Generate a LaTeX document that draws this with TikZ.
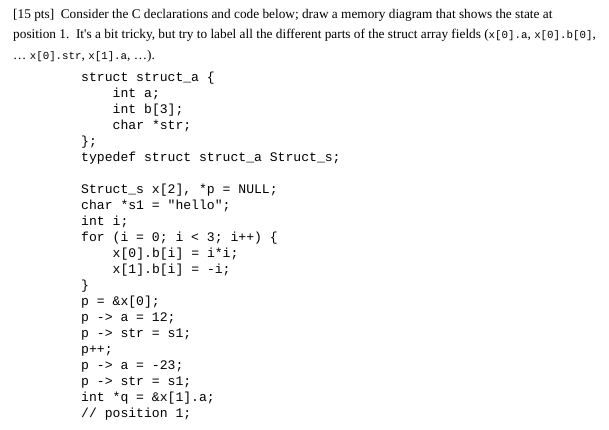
\documentclass[tikz,border=0pt]{standalone}
\usepackage{fontspec}
\setmainfont{Liberation Serif}
\setmonofont{Liberation Mono}
\usepackage{tikz}
\newcommand\inl[1]{{\fontsize{10.8}{12}\ttfamily #1}}

\begin{document}
\begin{tikzpicture}[x=1pt,y=-1pt,
        txt/.style={anchor=base west,inner sep=0pt,font=\fontsize{13.3}{16}\selectfont},
        code/.style={anchor=base west,inner sep=0pt,font=\fontsize{13.1}{16}\ttfamily}]
        \useasboundingbox (0,0) rectangle (609,429);
        % Question
        \node[txt] (q1) at (13,18) {[15 pts]\ \ Consider the C declarations and code below; draw a memory diagram that shows the state at};
        \node[txt] (q2) at (13,38.5) {position 1.\ \ It\textquotesingle s a bit tricky, but try to label all the different parts of the struct array fields (\inl{x[0].a}, \inl{x[0].b[0]},};
        \node[txt] (q3) at (13,59.5) {\dots\ \inl{x[0].str}, \inl{x[1].a}, \dots).};
        % Declarations
        \node[code] (c1) at (81,81.5) {struct struct\_a \{};
        \node[code] (c2) at (112.5,97.5) {int a;};
        \node[code] (c3) at (112.5,113.5) {int b[3];};
        \node[code] (c4) at (112.5,129.5) {char *str;};
        \node[code] (c5) at (81,145.5) {\};};
        \node[code] (c6) at (81,161.5) {typedef struct struct\_a Struct\_s;};
        % Code
        \node[code] (c7) at (81,193.5) {Struct\_s x[2], *p = NULL;};
        \node[code] (c8) at (81,209.5) {char *s1 = "hello";};
        \node[code] (c9) at (81,225.5) {int i;};
        \node[code] (c10) at (81,241.5) {for (i = 0; i < 3; i++) \{};
        \node[code] (c11) at (112.5,257.5) {x[0].b[i] = i*i;};
        \node[code] (c12) at (112.5,273.5) {x[1].b[i] = -i;};
        \node[code] (c13) at (81,289.5) {\}};
        \node[code] (c14) at (81,305.5) {p = \&x[0];};
        \node[code] (c15) at (81,321.5) {p -> a = 12;};
        \node[code] (c16) at (81,337.5) {p -> str = s1;};
        \node[code] (c17) at (81,353.5) {p++;};
        \node[code] (c18) at (81,369.5) {p -> a = -23;};
        \node[code] (c19) at (81,385.5) {p -> str = s1;};
        \node[code] (c20) at (81,401.5) {int *q = \&x[1].a;};
        \node[code] (c21) at (81,417.5) {// position 1;};
    \end{tikzpicture}
\end{document}
